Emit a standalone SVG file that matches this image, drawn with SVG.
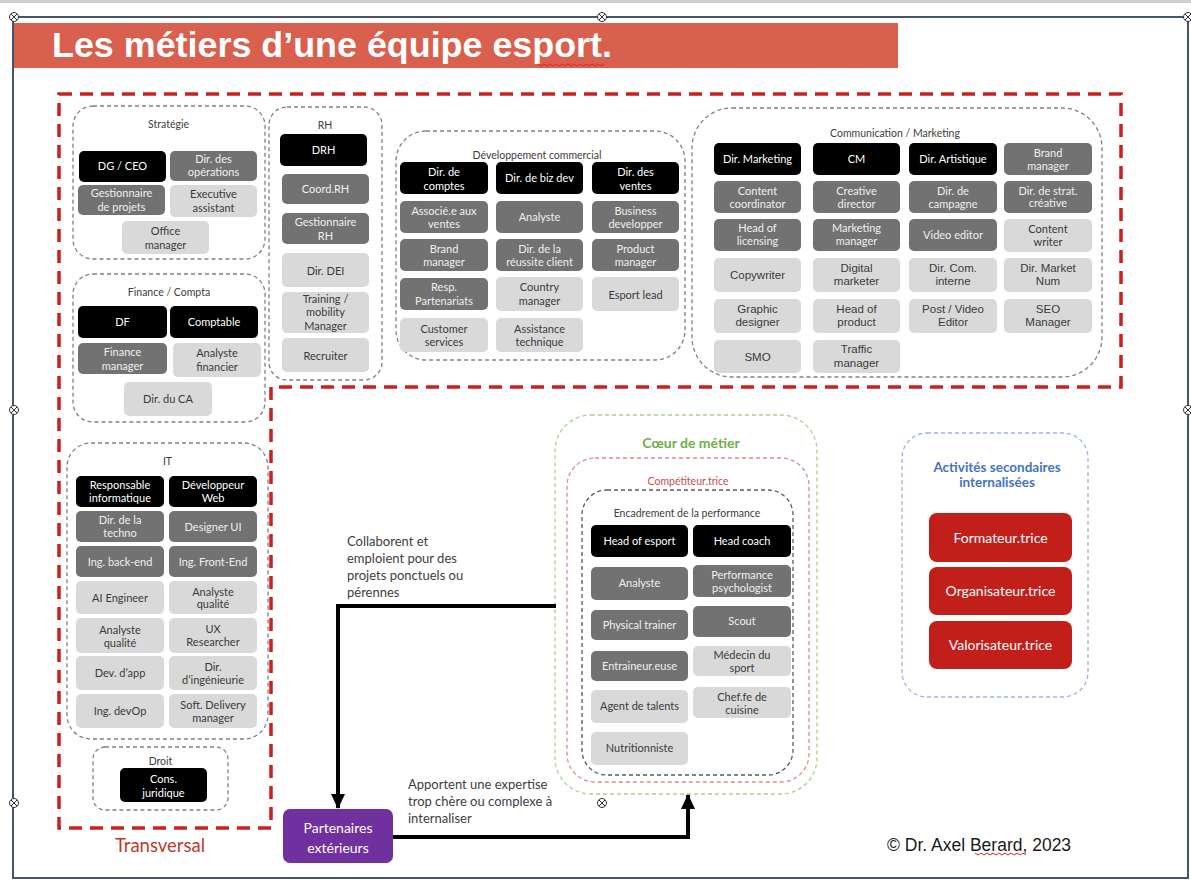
<svg xmlns="http://www.w3.org/2000/svg" xmlns:xlink="http://www.w3.org/1999/xlink" width="1191" height="881" viewBox="0 0 1191 881">
<style>
.grp{fill:none;stroke:#808080;stroke-width:1.3;stroke-dasharray:4 3}
.bk{fill:#000}
.dk{fill:#727272}
.lt{fill:#d9d9d9}
.t{font-family:Lato,"Open Sans",sans-serif;font-size:11px;text-anchor:middle}
.a{font-family:"Liberation Sans",Arial,sans-serif;font-size:11.5px;text-anchor:middle}
.w{fill:#ffffff}
.wd{fill:#f0f0f0}
.g{fill:#3a3a3a}
.gl{font-family:Lato,"Open Sans",sans-serif;font-size:10.5px;text-anchor:middle;fill:#404040}
.red{fill:#c21f1a}
.rt{font-family:Lato,"Open Sans",sans-serif;font-size:14px;text-anchor:middle;fill:#fff}
.lbl{font-family:Lato,"Open Sans",sans-serif;font-size:13px;fill:#404040}
.conn{fill:none;stroke:#000;stroke-width:4}
.squig{fill:none;stroke:#e02020;stroke-width:1}
</style>
<defs>
<marker id="ah" markerUnits="userSpaceOnUse" markerWidth="16" markerHeight="16" viewBox="0 0 16 16" refX="14" refY="8" orient="auto">
<path d="M0,1 L15,8 L0,15 Z" fill="#000"/>
</marker>
<g id="handle"><circle r="4.5" fill="#fff" stroke="#333" stroke-width="1"/><path d="M-3,-3 L3,3 M3,-3 L-3,3" stroke="#333" stroke-width="1"/></g>
</defs>
<rect width="1191" height="881" fill="#fff"/>
<rect x="0" y="0" width="1191" height="3" fill="#d0d0d0"/>
<rect x="13" y="17" width="1175" height="861" fill="none" stroke="#44546a" stroke-width="2"/>

<!-- Title -->
<g id="title">
<rect x="14" y="23" width="884" height="45" fill="#d9604f"/>
<text x="52" y="57" font-family="'Liberation Sans',Arial,sans-serif" font-weight="bold" font-size="35" fill="#fff" textLength="560" lengthAdjust="spacingAndGlyphs">Les métiers d’une équipe esport.</text>
<path class="squig" d="M538,64 l3,2 l3,-2 l3,2 l3,-2 l3,2 l3,-2 l3,2 l3,-2 l3,2 l3,-2 l3,2 l3,-2 l3,2 l3,-2 l3,2 l3,-2 l3,2 l3,-2 l3,2 l3,-2 l3,2 l3,-2"/>
</g>

<!-- Transversal zone -->
<g id="transversal">
<path d="M59,94 H1121 V387 H271 V828 H59 Z" fill="none" stroke="#cc1f1f" stroke-width="3.5" stroke-dasharray="13 8"/>
<text x="160" y="852" font-family="Lato,'Open Sans',sans-serif" font-size="18.5" fill="#c0392b" text-anchor="middle">Transversal</text>
</g>

<!-- Stratégie -->
<g id="g-strategie">
<rect class="grp" x="73" y="106" width="192" height="153" rx="20"/>
<text class="gl" x="168.5" y="128">Stratégie</text>
<g id="n-dg-ceo"><rect class="bk" x="79" y="151" width="87" height="31" rx="5"/><text class="t w" x="122.5" y="170">DG / CEO</text></g>
<g id="n-dir-ops"><rect class="dk" x="170" y="151" width="87" height="30" rx="5"/><text class="t wd"><tspan x="213.5" y="163">Dir. des</tspan><tspan x="213.5" y="176">opérations</tspan></text></g>
<g id="n-gest-projets"><rect class="dk" x="78" y="185" width="87" height="30" rx="5"/><text class="t wd"><tspan x="121.5" y="197">Gestionnaire</tspan><tspan x="121.5" y="211">de projets</tspan></text></g>
<g id="n-exec-assist"><rect class="lt" x="170" y="185" width="87" height="32" rx="5"/><text class="t g"><tspan x="213.5" y="198">Executive</tspan><tspan x="213.5" y="212">assistant</tspan></text></g>
<g id="n-office-mgr"><rect class="lt" x="122" y="221" width="87" height="33" rx="5"/><text class="t g"><tspan x="165.5" y="235">Office</tspan><tspan x="165.5" y="249">manager</tspan></text></g>
</g>

<!-- RH -->
<g id="g-rh">
<rect class="grp" x="269" y="107" width="113" height="273" rx="18"/>
<text class="gl" x="325" y="128.5">RH</text>
<g id="n-drh"><rect class="bk" x="280" y="134" width="87" height="32" rx="5"/><text class="t w" x="323.5" y="154">DRH</text></g>
<g id="n-coord-rh"><rect class="dk" x="282" y="174" width="87" height="30" rx="5"/><text class="t wd" x="325.5" y="193">Coord.RH</text></g>
<g id="n-gest-rh"><rect class="dk" x="282" y="213" width="87" height="31" rx="5"/><text class="t wd"><tspan x="325.5" y="226">Gestionnaire</tspan><tspan x="325.5" y="240">RH</tspan></text></g>
<g id="n-dir-dei"><rect class="lt" x="282" y="253" width="87" height="34" rx="5"/><text class="t g" x="325.5" y="274.5">Dir. DEI</text></g>
<g id="n-training"><rect class="lt" x="282" y="292" width="87" height="41" rx="5"/><text class="t g"><tspan x="325.5" y="302.5">Training /</tspan><tspan x="325.5" y="316">mobility</tspan><tspan x="325.5" y="329.5">Manager</tspan></text></g>
<g id="n-recruiter"><rect class="lt" x="282" y="338" width="87" height="34" rx="5"/><text class="t g" x="325.5" y="359.5">Recruiter</text></g>
</g>

<!-- Finance -->
<g id="g-finance">
<rect class="grp" x="73" y="274" width="192" height="148" rx="20"/>
<text class="gl" x="169" y="295.5">Finance / Compta</text>
<g id="n-df"><rect class="bk" x="78" y="306" width="89" height="32" rx="5"/><text class="t w" x="122.5" y="326">DF</text></g>
<g id="n-comptable"><rect class="bk" x="170" y="306" width="88" height="32" rx="5"/><text class="t w" x="214" y="326">Comptable</text></g>
<g id="n-fin-mgr"><rect class="dk" x="78" y="343" width="89" height="31" rx="5"/><text class="t wd"><tspan x="122.5" y="356">Finance</tspan><tspan x="122.5" y="370">manager</tspan></text></g>
<g id="n-analyste-fin"><rect class="lt" x="173" y="343" width="88" height="34" rx="5"/><text class="t g"><tspan x="217" y="357">Analyste</tspan><tspan x="217" y="371">financier</tspan></text></g>
<g id="n-dir-ca"><rect class="lt" x="124" y="382" width="88" height="34" rx="5"/><text class="t g" x="168" y="403">Dir. du CA</text></g>
</g>

<!-- IT -->
<g id="g-it">
<rect class="grp" x="67" y="443" width="201" height="296" rx="24"/>
<text class="gl" x="167.5" y="465">IT</text>
<g id="n-resp-info"><rect class="bk" x="76" y="476" width="88" height="31" rx="5"/><text class="t w"><tspan x="120" y="489">Responsable</tspan><tspan x="120" y="501.5">informatique</tspan></text></g>
<g id="n-dev-web"><rect class="bk" x="169" y="476" width="88" height="31" rx="5"/><text class="t w"><tspan x="213" y="489">Développeur</tspan><tspan x="213" y="501.5">Web</tspan></text></g>
<g id="n-dir-techno"><rect class="dk" x="76" y="511" width="88" height="31" rx="5"/><text class="t wd"><tspan x="120" y="524">Dir. de la</tspan><tspan x="120" y="536.5">techno</tspan></text></g>
<g id="n-designer-ui"><rect class="dk" x="169" y="511" width="88" height="31" rx="5"/><text class="t wd" x="213" y="531">Designer UI</text></g>
<g id="n-ing-back"><rect class="dk" x="76" y="546" width="88" height="31" rx="5"/><text class="t wd" x="120" y="565.5">Ing. back-end</text></g>
<g id="n-ing-front"><rect class="dk" x="169" y="546" width="88" height="31" rx="5"/><text class="t wd" x="213" y="565.5">Ing. Front-End</text></g>
<g id="n-ai-eng"><rect class="lt" x="76" y="581" width="88" height="33" rx="5"/><text class="t g" x="120" y="601.5">AI Engineer</text></g>
<g id="n-analyste-q1"><rect class="lt" x="169" y="581" width="88" height="33" rx="5"/><text class="t g"><tspan x="213" y="595.5">Analyste</tspan><tspan x="213" y="608">qualité</tspan></text></g>
<g id="n-analyste-q2"><rect class="lt" x="76" y="618" width="88" height="35" rx="5"/><text class="t g"><tspan x="120" y="633.5">Analyste</tspan><tspan x="120" y="646.5">qualité</tspan></text></g>
<g id="n-ux"><rect class="lt" x="169" y="618" width="88" height="35" rx="5"/><text class="t g"><tspan x="213" y="632.5">UX</tspan><tspan x="213" y="645.5">Researcher</tspan></text></g>
<g id="n-dev-app"><rect class="lt" x="76" y="656" width="88" height="34" rx="5"/><text class="t g" x="120" y="677">Dev. d’app</text></g>
<g id="n-dir-ing"><rect class="lt" x="169" y="656" width="88" height="34" rx="5"/><text class="t g"><tspan x="213" y="671">Dir.</tspan><tspan x="213" y="684">d’ingénieurie</tspan></text></g>
<g id="n-devop"><rect class="lt" x="76" y="694" width="88" height="34" rx="5"/><text class="t g" x="120" y="715">Ing. devOp</text></g>
<g id="n-soft-deliv"><rect class="lt" x="169" y="694" width="88" height="34" rx="5"/><text class="t g"><tspan x="213" y="708.5">Soft. Delivery</tspan><tspan x="213" y="721.5">manager</tspan></text></g>
</g>

<!-- Droit -->
<g id="g-droit">
<rect class="grp" x="93" y="747" width="135" height="63" rx="12"/>
<text class="gl" x="160.5" y="764.5">Droit</text>
<g id="n-cons-jur"><rect class="bk" x="120" y="768" width="87" height="34" rx="5"/><text class="t w"><tspan x="163.5" y="783">Cons.</tspan><tspan x="163.5" y="796.5">juridique</tspan></text></g>
</g>

<!-- Développement commercial -->
<g id="g-devcom">
<rect class="grp" x="396" y="131" width="289" height="229" rx="30"/>
<text class="gl" x="537" y="158.5" font-size="11">Développement commercial</text>
<g id="n-dir-comptes"><rect class="bk" x="400" y="162" width="88" height="32" rx="5"/><text class="t w"><tspan x="444" y="176">Dir. de</tspan><tspan x="444" y="189.5">comptes</tspan></text></g>
<g id="n-dir-bizdev"><rect class="bk" x="496" y="162" width="87" height="32" rx="5"/><text class="t w" x="539.5" y="181.5">Dir. de biz dev</text></g>
<g id="n-dir-ventes"><rect class="bk" x="592" y="162" width="87" height="32" rx="5"/><text class="t w"><tspan x="635.5" y="176">Dir. des</tspan><tspan x="635.5" y="189.5">ventes</tspan></text></g>
<g id="n-assoc-ventes"><rect class="dk" x="400" y="201" width="88" height="32" rx="5"/><text class="t wd"><tspan x="444" y="214.5">Associé.e aux</tspan><tspan x="444" y="227.5">ventes</tspan></text></g>
<g id="n-analyste-dc"><rect class="dk" x="496" y="201" width="87" height="32" rx="5"/><text class="t wd" x="539.5" y="220.5">Analyste</text></g>
<g id="n-bizdev"><rect class="dk" x="592" y="201" width="87" height="32" rx="5"/><text class="t wd"><tspan x="635.5" y="214.5">Business</tspan><tspan x="635.5" y="227.5">developper</tspan></text></g>
<g id="n-brand-dc"><rect class="dk" x="400" y="239" width="88" height="32" rx="5"/><text class="t wd"><tspan x="444" y="252.5">Brand</tspan><tspan x="444" y="266">manager</tspan></text></g>
<g id="n-dir-reussite"><rect class="dk" x="496" y="239" width="87" height="32" rx="5"/><text class="t wd"><tspan x="539.5" y="252.5">Dir. de la</tspan><tspan x="539.5" y="266">réussite client</tspan></text></g>
<g id="n-product-mgr"><rect class="dk" x="592" y="239" width="87" height="32" rx="5"/><text class="t wd"><tspan x="635.5" y="252.5">Product</tspan><tspan x="635.5" y="266">manager</tspan></text></g>
<g id="n-resp-part"><rect class="dk" x="400" y="278" width="88" height="32" rx="5"/><text class="t wd"><tspan x="444" y="291">Resp.</tspan><tspan x="444" y="305">Partenariats</tspan></text></g>
<g id="n-country-mgr"><rect class="lt" x="496" y="277" width="87" height="34" rx="5"/><text class="t g"><tspan x="539.5" y="291">Country</tspan><tspan x="539.5" y="305">manager</tspan></text></g>
<g id="n-esport-lead"><rect class="lt" x="592" y="277" width="87" height="34" rx="5"/><text class="t g" x="635.5" y="298.5">Esport lead</text></g>
<g id="n-customer"><rect class="lt" x="400" y="318" width="88" height="34" rx="5"/><text class="t g"><tspan x="444" y="332.5">Customer</tspan><tspan x="444" y="345.5">services</tspan></text></g>
<g id="n-assist-tech"><rect class="lt" x="496" y="318" width="87" height="34" rx="5"/><text class="t g"><tspan x="539.5" y="332.5">Assistance</tspan><tspan x="539.5" y="345.5">technique</tspan></text></g>
</g>

<!-- Communication / Marketing -->
<g id="g-comm">
<rect class="grp" x="692" y="108" width="410" height="269" rx="40"/>
<text class="gl" x="895" y="136.5">Communication / Marketing</text>
<g id="n-dir-mkt"><rect class="bk" x="714" y="143" width="87" height="32" rx="5"/><text class="t w" x="757.5" y="162.5">Dir. Marketing</text></g>
<g id="n-cm"><rect class="bk" x="813" y="143" width="87" height="32" rx="5"/><text class="t w" x="856.5" y="162.5">CM</text></g>
<g id="n-dir-art"><rect class="bk" x="909" y="143" width="88" height="32" rx="5"/><text class="t w" x="953" y="162.5">Dir. Artistique</text></g>
<g id="n-brand-cm"><rect class="dk" x="1004" y="143" width="88" height="32" rx="5"/><text class="t wd"><tspan x="1048" y="156.5">Brand</tspan><tspan x="1048" y="169.5">manager</tspan></text></g>
<g id="n-content-coord"><rect class="dk" x="714" y="181" width="87" height="32" rx="5"/><text class="t wd"><tspan x="757.5" y="194.5">Content</tspan><tspan x="757.5" y="207.5">coordinator</tspan></text></g>
<g id="n-creative-dir"><rect class="dk" x="813" y="181" width="87" height="32" rx="5"/><text class="t wd"><tspan x="856.5" y="194.5">Creative</tspan><tspan x="856.5" y="207.5">director</tspan></text></g>
<g id="n-dir-campagne"><rect class="dk" x="909" y="181" width="88" height="32" rx="5"/><text class="t wd"><tspan x="953" y="194.5">Dir. de</tspan><tspan x="953" y="207.5">campagne</tspan></text></g>
<g id="n-dir-strat"><rect class="dk" x="1004" y="181" width="88" height="32" rx="5"/><text class="t wd"><tspan x="1048" y="194.5">Dir. de strat.</tspan><tspan x="1048" y="207">créative</tspan></text></g>
<g id="n-head-lic"><rect class="dk" x="714" y="219" width="87" height="32" rx="5"/><text class="t wd"><tspan x="757.5" y="231.5">Head of</tspan><tspan x="757.5" y="245">licensing</tspan></text></g>
<g id="n-mkt-mgr"><rect class="dk" x="813" y="219" width="87" height="32" rx="5"/><text class="t wd"><tspan x="856.5" y="231.5">Marketing</tspan><tspan x="856.5" y="245">manager</tspan></text></g>
<g id="n-video-ed"><rect class="dk" x="909" y="219" width="88" height="32" rx="5"/><text class="t wd" x="953" y="239">Video editor</text></g>
<g id="n-content-wr"><rect class="lt" x="1004" y="219" width="88" height="33" rx="5"/><text class="t g"><tspan x="1048" y="232.5">Content</tspan><tspan x="1048" y="246">writer</tspan></text></g>
<g id="n-copywriter"><rect class="lt" x="714" y="258" width="87" height="34" rx="5"/><text class="a g" x="757.5" y="279">Copywriter</text></g>
<g id="n-digital-mkt"><rect class="lt" x="813" y="258" width="87" height="34" rx="5"/><text class="a g"><tspan x="856.5" y="272">Digital</tspan><tspan x="856.5" y="285">marketer</tspan></text></g>
<g id="n-dir-com-int"><rect class="lt" x="909" y="258" width="88" height="34" rx="5"/><text class="a g"><tspan x="953" y="272">Dir. Com.</tspan><tspan x="953" y="285">interne</tspan></text></g>
<g id="n-dir-market-num"><rect class="lt" x="1004" y="258" width="88" height="34" rx="5"/><text class="a g"><tspan x="1048" y="272">Dir. Market</tspan><tspan x="1048" y="285">Num</tspan></text></g>
<g id="n-graphic"><rect class="lt" x="714" y="299" width="87" height="34" rx="5"/><text class="a g"><tspan x="757.5" y="313">Graphic</tspan><tspan x="757.5" y="326">designer</tspan></text></g>
<g id="n-head-product"><rect class="lt" x="813" y="299" width="87" height="34" rx="5"/><text class="a g"><tspan x="856.5" y="313">Head of</tspan><tspan x="856.5" y="326">product</tspan></text></g>
<g id="n-post-video"><rect class="lt" x="909" y="299" width="88" height="34" rx="5"/><text class="a g"><tspan x="953" y="313">Post / Video</tspan><tspan x="953" y="326">Editor</tspan></text></g>
<g id="n-seo"><rect class="lt" x="1004" y="299" width="88" height="34" rx="5"/><text class="a g"><tspan x="1048" y="313">SEO</tspan><tspan x="1048" y="326">Manager</tspan></text></g>
<g id="n-smo"><rect class="lt" x="714" y="340" width="87" height="33" rx="5"/><text class="a g" x="757.5" y="361">SMO</text></g>
<g id="n-traffic"><rect class="lt" x="813" y="340" width="87" height="33" rx="5"/><text class="a g"><tspan x="856.5" y="353">Traffic</tspan><tspan x="856.5" y="367">manager</tspan></text></g>
</g>

<!-- Coeur de métier -->
<g id="g-coeur">
<rect x="555" y="415" width="262" height="379" rx="36" fill="none" stroke="#a9d18e" stroke-width="1.3" stroke-dasharray="4 3"/>
<text x="691" y="448" font-family="Lato,'Open Sans',sans-serif" font-weight="bold" font-size="14" fill="#70ad47" text-anchor="middle">Cœur de métier</text>
</g>
<g id="g-competiteur">
<rect x="567" y="458" width="242" height="324" rx="28" fill="none" stroke="#e08a8a" stroke-width="1.3" stroke-dasharray="4 3"/>
<text x="688" y="484.5" font-family="Lato,'Open Sans',sans-serif" font-size="10.5" fill="#c0504d" text-anchor="middle">Compétiteur.trice</text>
</g>
<g id="g-encadrement">
<rect x="582" y="490" width="211" height="285" rx="25" fill="none" stroke="#595959" stroke-width="1.3" stroke-dasharray="4 3"/>
<text class="gl" x="687" y="517" font-size="11" fill="#262626">Encadrement de la performance</text>
<g id="n-head-esport"><rect class="bk" x="591" y="525" width="97" height="32" rx="5"/><text class="t w" x="639.5" y="545">Head of esport</text></g>
<g id="n-head-coach"><rect class="bk" x="693" y="525" width="98" height="32" rx="5"/><text class="t w" x="742" y="545">Head coach</text></g>
<g id="n-analyste-perf"><rect class="dk" x="591" y="567" width="97" height="33" rx="5"/><text class="t wd" x="639.5" y="587">Analyste</text></g>
<g id="n-perf-psy"><rect class="dk" x="693" y="565" width="98" height="32" rx="5"/><text class="t wd"><tspan x="742" y="578.5">Performance</tspan><tspan x="742" y="591.5">psychologist</tspan></text></g>
<g id="n-physical"><rect class="dk" x="591" y="610" width="97" height="30" rx="5"/><text class="t wd" x="639.5" y="629">Physical trainer</text></g>
<g id="n-scout"><rect class="dk" x="693" y="606" width="98" height="31" rx="5"/><text class="t wd" x="742" y="625">Scout</text></g>
<g id="n-entraineur"><rect class="dk" x="591" y="651" width="97" height="30" rx="5"/><text class="t wd" x="639.5" y="670">Entraineur.euse</text></g>
<g id="n-medecin"><rect class="lt" x="693" y="646" width="98" height="30" rx="5"/><text class="t g"><tspan x="742" y="658.5">Médecin du</tspan><tspan x="742" y="672">sport</tspan></text></g>
<g id="n-agent"><rect class="lt" x="591" y="690" width="97" height="33" rx="5"/><text class="t g" x="639.5" y="710">Agent de talents</text></g>
<g id="n-chef"><rect class="lt" x="693" y="687" width="98" height="31" rx="5"/><text class="t g"><tspan x="742" y="700.5">Chef.fe de</tspan><tspan x="742" y="713.5">cuisine</tspan></text></g>
<g id="n-nutri"><rect class="lt" x="591" y="732" width="97" height="33" rx="5"/><text class="t g" x="639.5" y="752">Nutritionniste</text></g>
</g>

<!-- Activités secondaires -->
<g id="g-activites">
<rect x="902" y="433" width="186" height="264" rx="25" fill="none" stroke="#9db4dc" stroke-width="1.3" stroke-dasharray="4 3"/>
<text font-family="Lato,'Open Sans',sans-serif" font-weight="bold" font-size="13.5" fill="#4472c4" text-anchor="middle"><tspan x="997" y="471.5">Activités secondaires</tspan><tspan x="997" y="487">internalisées</tspan></text>
<g id="n-formateur"><rect class="red" x="929" y="513" width="143" height="49" rx="8"/><text class="rt" x="1000.5" y="542.5">Formateur.trice</text></g>
<g id="n-organisateur"><rect class="red" x="929" y="567" width="143" height="48" rx="8"/><text class="rt" x="1000.5" y="596">Organisateur.trice</text></g>
<g id="n-valorisateur"><rect class="red" x="929" y="621" width="143" height="48" rx="8"/><text class="rt" x="1000.5" y="650">Valorisateur.trice</text></g>
</g>

<!-- Partenaires -->
<g id="n-partenaires">
<rect x="283" y="809" width="110" height="54" rx="7" fill="#7030a0"/>
<text class="rt"><tspan x="338" y="833">Partenaires</tspan><tspan x="338" y="853">extérieurs</tspan></text>
</g>

<!-- Connectors -->
<g id="connectors">
<path class="conn" d="M556,606 H338 V808" marker-end="url(#ah)"/>
<path class="conn" d="M393,837 H688 V795" marker-end="url(#ah)"/>
<text class="lbl"><tspan x="347" y="546">Collaborent et</tspan><tspan x="347" y="563">emploient pour des</tspan><tspan x="347" y="580">projets ponctuels ou</tspan><tspan x="347" y="597">pérennes</tspan></text>
<text class="lbl"><tspan x="408" y="789">Apportent une expertise</tspan><tspan x="408" y="806">trop chère ou complexe à</tspan><tspan x="408" y="823">internaliser</tspan></text>
</g>

<!-- Copyright -->
<g id="copyright">
<text x="887" y="851" font-family="'Liberation Sans',Arial,sans-serif" font-size="17.5" fill="#1a1a1a">© Dr. Axel Berard, 2023</text>
<path class="squig" d="M975,853 l3,2 l3,-2 l3,2 l3,-2 l3,2 l3,-2 l3,2 l3,-2 l3,2 l3,-2 l3,2 l3,-2 l3,2 l3,-2 l3,2 l3,-2 l3,2"/>
</g>

<!-- Selection handles -->
<g id="handles">
<use xlink:href="#handle" x="14" y="17"/>
<use xlink:href="#handle" x="602" y="17"/>
<use xlink:href="#handle" x="1188" y="17"/>
<use xlink:href="#handle" x="14" y="410"/>
<use xlink:href="#handle" x="1188" y="410"/>
<use xlink:href="#handle" x="14" y="803"/>
<use xlink:href="#handle" x="602" y="803"/>
</g>
</svg>
